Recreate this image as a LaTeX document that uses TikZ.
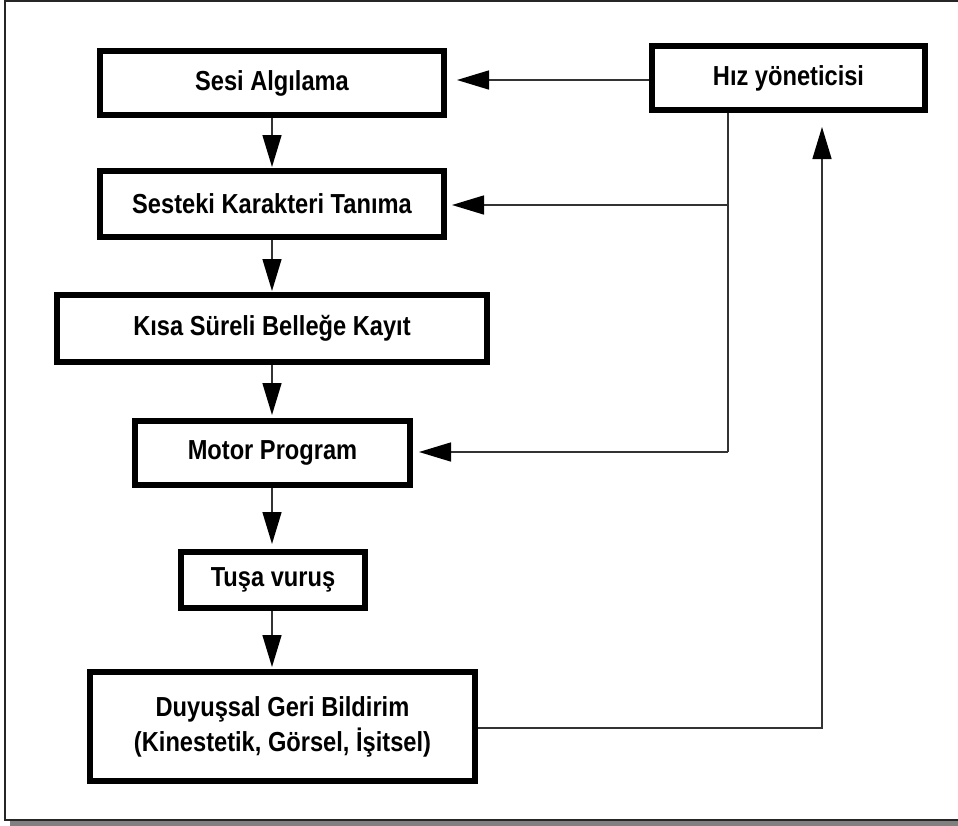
\documentclass[tikz,border=0pt]{standalone}
\usepackage{fontspec}
\setmainfont{Liberation Sans}[FakeStretch=0.86]
\usetikzlibrary{arrows.meta}
\begin{document}
\begin{tikzpicture}[x=1pt,y=-1pt,
  box/.style={draw=black,line width=6pt,fill=white,inner sep=0pt,align=center,
    font=\fontsize{27.5}{35}\selectfont\bfseries},
  conn/.style={draw=black!80,line width=1.5pt},
  arr/.style={conn,-{Triangle[length=32pt,width=19pt,color=black]}}]
\useasboundingbox (0,0) rectangle (958,825);
\clip (0,0) rectangle (958,825);
% frame and shadow
\fill[black!50] (10,819) rectangle (970,826);
\draw[line width=1.8pt,draw=black!85,fill=white] (5,1) rectangle (970,820);
% nodes
\node[box,minimum width=344pt,minimum height=64pt] (sesi) at (272,83) {Sesi Algılama};
\node[box,minimum width=344pt,minimum height=66pt] (ses) at (272,204) {Sesteki Karakteri Tanıma};
\node[box,minimum width=430pt,minimum height=67pt] (kisa) at (272,328.5) {Kısa Süreli Belleğe Kayıt};
\node[box,minimum width=275pt,minimum height=64pt] (motor) at (272.5,453) {Motor Program};
\node[box,minimum width=184pt,minimum height=56pt] (tusa) at (273,580) {Tuşa vuruş};
\node[box,minimum width=385pt,minimum height=109pt] (duy) at (282.5,726.5) {Duyuşsal Geri Bildirim\\(Kinestetik, Görsel, İşitsel)};
\node[box,minimum width=273pt,minimum height=64pt] (hiz) at (788.5,78) {Hız yöneticisi};
% bus coordinates
\coordinate (bustop) at (728,113);
\coordinate (busbot) at (728,452);
\coordinate (fb) at (822,113);
% vertical chain
\draw[arr,shorten >=1pt] (sesi.south -| 272,0) -- (ses.north -| 272,0);
\draw[arr,shorten >=1pt] (ses.south -| 272,0) -- (kisa.north -| 272,0);
\draw[arr,shorten >=3pt] (kisa.south -| 272,0) -- (motor.north -| 272,0);
\draw[arr,shorten >=5pt] (motor.south -| 272,0) -- (tusa.north -| 272,0);
\draw[arr,shorten >=2pt] (tusa.south -| 272,0) -- (duy.north -| 272,0);
% speed manager links
\draw[arr,shorten >=10pt] (hiz.west |- 0,80) -- (sesi.east |- 0,80);
\draw[conn] (bustop) -- (busbot);
\draw[arr,shorten >=6pt] (busbot) -- (motor.east |- busbot);
\draw[arr,shorten >=5pt] (bustop |- 0,205) -- (ses.east |- 0,205);
% feedback
\draw[arr,shorten >=14pt] (duy.east |- 0,728) -| (fb);
\end{tikzpicture}
\end{document}
